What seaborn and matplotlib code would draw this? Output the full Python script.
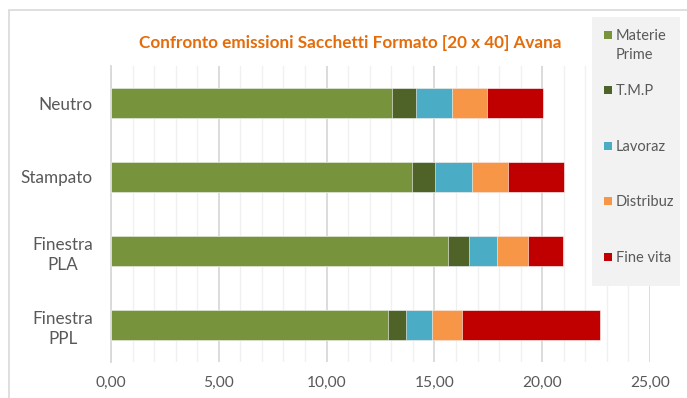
import matplotlib
matplotlib.use("Agg")
import matplotlib.pyplot as plt
import seaborn as sns
import pandas as pd
import numpy as np
from matplotlib.ticker import FuncFormatter, MultipleLocator
from matplotlib.patches import Rectangle

categories = ["Neutro", "Stampato", "Finestra\nPLA", "Finestra\nPPL"]
materie_prime = [13.05, 13.94, 15.63, 12.85]
tmp = [1.09, 1.11, 0.98, 0.82]
lavoraz = [1.66, 1.71, 1.30, 1.22]
distribuz = [1.63, 1.66, 1.43, 1.41]
fine_vita = [2.59, 2.60, 1.61, 6.39]

series_names = ["Materie\nPrime", "T.M.P", "Lavoraz", "Distribuz", "Fine vita"]
series_values = [materie_prime, tmp, lavoraz, distribuz, fine_vita]
colors = ["#77933C", "#4F6228", "#4BACC6", "#F79646", "#C00000"]
title = "Confronto emissioni Sacchetti Formato [20 x 40] Avana"

sns.set_theme(style="white")
plt.rcParams['font.family'] = ['Lato', 'DejaVu Sans']

fig = plt.figure(figsize=(6.87, 3.98), dpi=100)
fig.patch.set_facecolor("white")
ax = fig.add_axes([111/687, 1-362/398, (650-111)/687, (362-66)/398])

cum = np.cumsum(np.array(series_values), axis=0)
for i in range(len(series_names) - 1, -1, -1):
    df = pd.DataFrame({"cat": categories, "val": cum[i]})
    sns.barplot(data=df, y="cat", x="val", orient="h", color=colors[i],
                width=0.40, ax=ax, saturation=1, edgecolor="white", linewidth=0.4,
                zorder=3)

ax.set_xlim(0, 25)
ax.set_ylim(3.5, -0.5)
ax.xaxis.set_major_locator(MultipleLocator(5))
ax.xaxis.set_minor_locator(MultipleLocator(1))
ax.xaxis.set_major_formatter(FuncFormatter(lambda v, p: f"{v:.2f}".replace(".", ",")))
ax.grid(axis="x", which="major", color="#d9d9d9", linewidth=1.3, zorder=0)
ax.grid(axis="x", which="minor", color="#f0f0f0", linewidth=1.0, zorder=0)
ax.set_axisbelow(True)
for s in ["top", "right", "bottom"]:
    ax.spines[s].set_visible(False)
ax.spines["left"].set_color("#d9d9d9")
ax.spines["left"].set_linewidth(1.3)
ax.set_xlabel("")
ax.set_ylabel("")
ax.tick_params(axis="both", length=0, colors="#595959")
ax.tick_params(axis="x", pad=10, labelsize=11.2)
ax.tick_params(axis="y", pad=13, labelsize=12.3)
for lab in ax.get_yticklabels():
    lab.set_horizontalalignment("right")
    lab.set_multialignment("center")
    lab.set_linespacing(1.35)
ax.set_facecolor("none")

# outer chart border
fig.patches.append(Rectangle((9/687, -0.02), 1.0, 1-10/398 + 0.02, transform=fig.transFigure,
                             fill=False, edgecolor="#d9d9d9", linewidth=1.2, zorder=0))

fig.text(350/687, 1-43/398, title, ha="center", va="center", color="#E46C0A",
         fontsize=12.3, fontweight="bold")

# legend panel
fig.patches.append(Rectangle((592/687, 1-286/398), 88/687, 269/398, transform=fig.transFigure,
                             facecolor="#f2f2f2", edgecolor="none", zorder=5))
ys = [35, 90, 146, 201, 257]
for name, c, y in zip(series_names, colors, ys):
    fig.patches.append(Rectangle((604/687, 1-(y+4)/398), 8/687, 8/398, transform=fig.transFigure,
                                 facecolor=c, edgecolor="none", zorder=6))
    fig.text(616/687, 1-(y-6)/398, name, ha="left", va="top", color="#595959",
             fontsize=10.5, zorder=7, linespacing=1.45)

fig.savefig("out.png", dpi=100)
